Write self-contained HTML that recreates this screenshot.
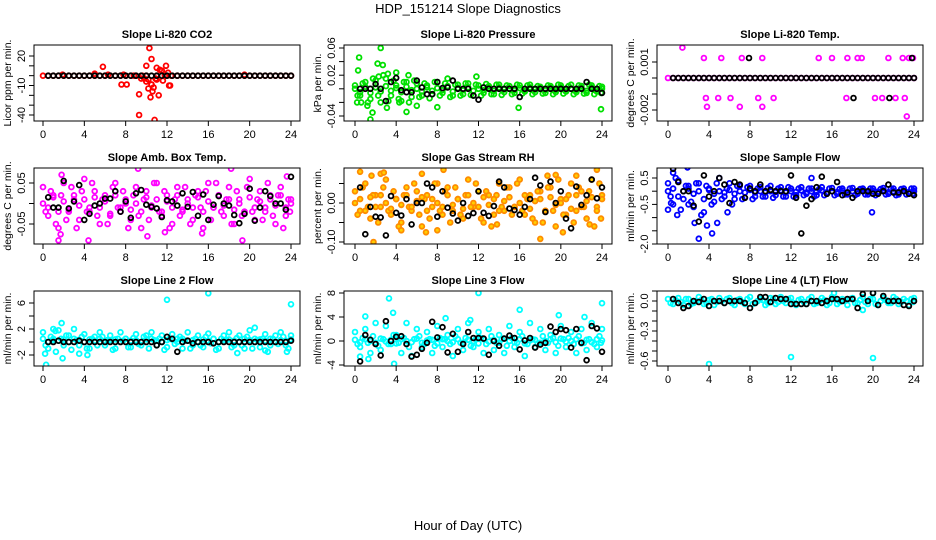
<!DOCTYPE html>
<html><head><meta charset="utf-8"><style>
html,body{margin:0;padding:0;background:#fff;}
svg{display:block;font-family:"Liberation Sans",sans-serif;}
</style></head><body>
<svg id="chart" width="936" height="540" viewBox="0 0 936 540" xmlns="http://www.w3.org/2000/svg">
<rect width="936" height="540" fill="#fff"/>
<text x="468" y="13" font-size="13" text-anchor="middle">HDP_151214  Slope Diagnostics</text>
<text x="468" y="530" font-size="13" text-anchor="middle">Hour of Day (UTC)</text>
<g id="panels"></g>
</svg>
<script>
const hoursC=[0,0.5,1,1.5,2,2.5,3,3.5,4,4.5,5,5.5,6,6.5,7,7.5,8,8.5,9,9.5,10,10.5,11,11.5,12,12.5,13,13.5,14,14.5,15,15.5,16,16.5,17,17.5,18,18.5,19,19.5,20,20.5,21,21.5,22,22.5,23,23.5,24];
const hoursD=[0.25,0.75,1.25,1.75,2.25,2.75,3.25,3.75,4.25,4.75,5.25,5.75,6.25,6.75,7.25,7.75,8.25,8.75,9.25,9.75,10.25,10.75,11.25,11.75,12.25,12.75,13.25,13.75,14.25,14.75,15.25,15.75,16.25,16.75,17.25,17.75,18.25,18.75,19.25,19.75,20.25,20.75,21.25,21.75,22.25,22.75,23.25,23.75,23.9];
const hoursK=[0.5,1,1.5,2,2.5,3,3.5,4,4.5,5,5.5,6,6.5,7,7.5,8,8.5,9,9.5,10,10.5,11,11.5,12,12.5,13,13.5,14,14.5,15,15.5,16,16.5,17,17.5,18,18.5,19,19.5,20,20.5,21,21.5,22,22.5,23,23.5,24];
const xTicks=[0,4,8,12,16,20,24];

// Panel 1 CO2
const co2A=[0,0,0,0,0,0,0,0,0,0,0,0,0,0,0,0,0,0,0,-3,0,-9,0,5,0,0,0,0,0,0,0,0,0,0,0,0,0,0,0,0,0,0,0,0,0,0,0,0,0];
const co2K=[0,0,0,0,0,0,0,0,0,0,0,0,0,0,0,0,0,0,0,0,0,0,0,0,0,0,0,0,0,0,0,0,0,0,0,0,0,0,0,0,0,0,0,0,0,0,0,0];
const co2OutH=[1.9,5.0,5.8,6.3,7.6,8.1,7.8,9.3,9.3,9.6,9.8,10.0,10.2,10.2,10.3,10.4,10.5,10.5,10.6,10.7,10.8,10.9,11.0,11.0,11.2,11.3,11.5,11.6,11.8,11.9,12.1,12.2,12.3,12.4,10.0,8.8,19.5,13.0];
const co2OutV=[1,2,9,1,-9,-9,1,-19,-40,0,-3,-6,-4,-13,28,-22,-9,17,-16,-12,-45,-3,-4,8,-20,6,5,-5,0,10,3,-10,-10,0,10,0,1,0];

// Panel 2 Pressure
const presA=[0.005,-0.01,0.01,-0.015,0.012,-0.02,0.015,-0.01,0.005,-0.018,0.01,-0.012,0.008,-0.01,0.005,-0.008,0.01,-0.006,0.004,-0.01,0.006,-0.008,0.008,-0.01,0.005,-0.006,0.004,-0.008,0.006,-0.005,0.004,-0.006,0.005,-0.004,0.006,-0.005,0.003,-0.006,0.004,-0.005,0.005,-0.004,0.006,-0.005,0.004,-0.006,0.005,-0.004,0.003];
const presB=[-0.01,0.008,-0.02,0.015,-0.01,0.02,-0.018,0.012,-0.015,0.01,-0.02,0.012,-0.012,0.008,-0.014,0.01,-0.01,0.008,-0.012,0.006,-0.01,0.008,-0.009,0.006,-0.01,0.007,-0.008,0.006,-0.009,0.005,-0.008,0.006,-0.007,0.005,-0.008,0.004,-0.007,0.005,-0.008,0.006,-0.007,0.004,-0.008,0.005,-0.007,0.006,-0.008,0.004,-0.006];
const presC=[0,-0.005,0.003,-0.006,0.002,-0.004,0.004,-0.003,0.001,-0.005,0.003,-0.002,0,-0.004,0.002,-0.003,0.001,-0.002,0.003,-0.004,0.001,-0.002,0.002,-0.003,0,-0.002,0.001,-0.003,0.002,-0.001,0,-0.002,0.001,-0.003,0.002,-0.001,0,-0.002,0.001,-0.002,0.002,-0.001,0,-0.002,0.001,-0.003,0.002,-0.001,0];
const presOutH=[0.2,0.3,0.4,0.6,1.5,1.7,2.2,2.5,2.7,2.3,3.1,3.2,4.0,4.3,5.0,5.2,6.0,8.0,15.9,23.9,9.0,11.8,1.2];
const presOutV=[-0.02,0.027,0.046,-0.02,-0.045,-0.035,0.037,0.06,0.035,0.018,-0.028,0.022,0.024,-0.02,-0.034,0.02,-0.025,-0.027,-0.028,-0.03,0.015,0.018,-0.025];
const presK=[0,0,0,0.007,0,-0.018,0.01,0.016,-0.002,-0.005,-0.005,0.012,0.002,-0.008,-0.008,0.01,0.001,0.002,0.012,0,0,0,-0.01,-0.016,0.002,0,0,0,0,0,0,-0.012,0,0,0,0,0,0,0,0,0,0,0,0,0.01,0,0,-0.006];

// Panel 3 Temp
const tempA=[0,0,0,0,0,0,0,0,0,0,0,0,0,0,0,0,0,0,0,0,0,0,0,0,0,0,0,0,0,0,0,0,0,0,0,0,0,0,0,0,0,0,0,0,0,0,0,0,0];
const tempK=[0,0,0,0,0,0,0,0,0,0,0,0,0,0,0,0,0,0,0,0,0,0,0,0,0,0,0,0,0,0,0,0,0,0,0,0,0,0,0,0,0,0,0,0,0,0,0,0];
const tempOutH=[1.4,3.5,5.2,7.2,9.2,14.7,16,17.5,18.5,18.9,21.5,22.9,23.5,23.9,3.7,4.9,6.1,8.8,10.3,17.4,20.2,20.9,22.2,23.1,3.8,7.0,9.2,23.3];
const tempOutV=[0.0019,0.00125,0.00125,0.00125,0.00125,0.00125,0.00125,0.00125,0.00125,0.00125,0.00125,0.00125,0.00125,0.00125,-0.00125,-0.00125,-0.00125,-0.00125,-0.00125,-0.00125,-0.00125,-0.00125,-0.00125,-0.00125,-0.0018,-0.0018,-0.0018,-0.0024];
const tempKOutH=[7.9,23.8,18.1,21.6];
const tempKOutV=[0.00125,0.00125,-0.00125,-0.00125];

// Panel 4 Amb Box Temp
const ambA=[.04,-.03,.02,-.06,.05,-.02,.01,-.04,.06,-.01,.03,-.05,.02,-.03,.05,-.02,.0,-.04,.04,-.06,.03,-.01,.05,-.03,.02,-.05,.04,-.02,.01,-.04,.03,-.06,.05,-.01,.02,-.03,.04,-.05,.01,-.02,.06,-.04,.03,-.01,.02,-.05,.04,-.03,.01];
const ambB=[-.02,.03,-.05,.02,-.04,.04,-.06,.03,-.02,.05,-.03,.01,-.05,.04,-.01,.03,-.06,.02,-.03,.01,-.04,.05,-.02,.03,-.06,.01,-.03,.04,-.05,.02,-.01,.03,-.04,.05,-.02,.01,-.05,.03,-.03,.04,-.02,.01,-.04,.05,-.03,.02,-.06,.01,-.02];
const ambC=[.0,-.01,.015,-.02,.005,-.015,.02,-.005,.01,-.02,.015,-.01,.005,-.025,.02,-.01,.01,-.015,.0,-.02,.015,-.005,.01,-.02,.005,-.01,.02,-.015,.0,-.01,.015,-.02,.005,-.01,.02,-.005,.01,-.015,.0,-.02,.015,-.01,.005,-.02,.01,-.005,.02,-.01,.0];
const ambOutH=[1.5,1.7,4.4,9.2,10.1,11.8,15.4,18.2,19.3,23.6,1.8];
const ambOutV=[-.09,-.075,-.09,.085,-.08,-.07,-.073,.085,-.09,.066,.07];
const ambK=[.015,-.01,-.01,.055,-.012,.005,.045,-.04,-.025,-.005,.0,.012,.012,.03,-.02,.005,-.035,.025,.033,-.003,-.008,-.012,-.033,.008,.005,-.005,.025,-.008,.028,-.03,.022,-.04,-.003,.018,.0,-.005,-.028,-.048,-.025,.036,-.042,-.01,.03,.018,.0,.0,-.015,.065];

// Panel 5 Gas Stream RH
const rhA=[.03,-.02,.05,-.04,.02,-.01,.06,-.03,.01,-.05,.04,-.02,.03,-.06,.02,-.01,.05,-.03,.04,-.02,.01,-.04,.06,-.01,.03,-.05,.02,-.03,.05,-.02,.04,-.01,.06,-.03,.02,-.05,.03,-.02,.04,-.06,.01,-.03,.05,-.02,.03,-.04,.06,-.01,.02];
const rhB=[-.03,.04,-.01,.02,-.05,.04,-.02,.03,-.06,.02,-.01,.05,-.03,.01,-.04,.05,-.02,.03,-.05,.04,-.03,.02,-.01,.05,-.04,.03,-.06,.02,-.01,.04,-.03,.05,-.02,.01,-.04,.03,-.05,.04,-.02,.06,-.03,.02,-.05,.04,-.01,.03,-.06,.05,-.04];
const rhC=[.0,.01,-.02,.015,-.01,.02,.0,-.015,.01,-.005,.02,-.01,.005,.015,-.02,.01,.0,-.01,.02,-.005,.01,-.015,.02,.0,-.01,.015,-.005,.01,-.02,.005,.015,-.01,.0,.02,-.015,.005,.01,-.02,.015,-.005,.0,.01,-.015,.02,-.01,.005,.015,-.02,.01];
const rhOutH=[0.5,1.6,1.8,2.5,2.8,4.5,6.5,6.9,8.6,8.0,13.8,18.0,18.7,19.5,20.2,21.5,23.5,22.8];
const rhOutV=[.08,.07,-.1,.075,.078,-.07,.075,-.075,.085,-.07,-.055,-.092,.07,.072,-.075,.07,.085,-.055];
const rhK=[.04,-.08,-.01,-.035,-.037,-.083,.018,-.025,-.032,.01,-.055,.0,.0,.05,.04,-.035,.03,-.012,-.027,-.045,.0,-.033,-.026,.03,-.025,-.033,-.008,.055,.04,-.014,-.018,-.03,-.01,.01,.065,.045,-.023,.055,.0,.03,-.04,-.065,.042,-.005,.02,.06,.012,.04];

// Panel 6 Sample Flow
const sfA=[.3,-.5,.4,-.3,.2,-.6,.3,-.8,.1,-.4,.5,-.2,.3,-.3,.2,-.25,.2,-.2,.15,-.2,.2,-.15,.15,-.2,.1,-.15,.15,-.1,.1,-.15,.15,-.1,.12,-.1,.1,-.12,.12,-.1,.1,-.12,.1,-.08,.12,-.1,.1,-.12,.1,-.08,.1];
const sfB=[-.2,.5,-.7,.2,-.4,.3,-.9,.2,-.5,.3,-.3,.1,-.5,.2,-.3,.15,-.3,.1,-.2,.12,-.25,.1,-.2,.15,-.2,.1,-.15,.1,-.2,.08,-.15,.1,-.15,.08,-.12,.1,-.15,.08,-.12,.1,-.15,.08,-.12,.1,-.15,.08,-.12,.1,-.1];
const sfC=[0,.1,-.2,0,.1,-.1,0,-.3,.05,-.1,0,-.05,.05,-.1,0,-.05,.05,-.05,0,-.05,0,-.03,.03,-.05,0,-.03,.03,-.05,0,-.03,.03,-.04,0,-.03,.02,-.04,0,-.02,.03,-.04,0,-.02,.03,-.04,0,-.03,.02,-.03,0];
const sfOutH=[0,0.5,0.9,1.9,2.8,3.0,2.6,3.8,4.3,4.8,5.8,19.9,14.0,0.3,2.0];
const sfOutV=[-.7,.7,-.9,.9,1.1,-1.8,-1.2,-1.3,-1.6,-1.2,-.8,-.8,.5,-.45,-.5];
const sfK=[.85,.35,.0,.0,-.55,-1.15,.6,-.2,.0,.5,.25,-.45,.35,.25,-.25,.1,.0,.25,.0,.05,.0,.0,.0,.6,-.25,-1.6,-.55,-.3,.15,.55,-.1,.0,.35,-.15,-.05,-.25,.0,.0,.0,-.1,-.1,.0,.25,-.05,-.05,.0,-.1,-.15];

// Panel 7 Line 2 Flow
const l2A=[1.5,-1,.5,1.8,-.5,1,2,-.5,1.2,-1,.8,1.5,-.5,1,-1,1.5,.5,-.8,1.2,-.5,1,1.5,-.5,1,-.8,1.2,.5,-1,1.5,-.5,1,-.8,1.3,.5,-1,1,1.5,-.5,1,-1,1.8,.5,-.8,1.2,-.5,1,1.5,-.5,1];
const l2B=[-.5,.8,-1.5,.5,1,-1.2,.3,.8,-1,.5,-.5,.8,.3,-1.2,.5,.2,-.8,.6,-.3,.8,-1,.3,.5,-1.2,.5,-.3,.8,.2,-1,.5,-.5,.8,-.2,-1.2,.5,.3,-.8,.6,-.5,.8,-1,.3,.5,-1.5,.5,-.3,.8,-1,.2];
const l2C=[.5,0,.3,.2,.4,0,.5,.3,0,.4,.2,.5,0,.3,.4,0,.5,.2,.3,0,.4,.5,.2,0,.3,.4,0,.5,.2,.3,0,.4,.2,.5,0,.3,.4,.2,0,.5,.3,0,.4,.2,.5,0,.3,.2,.4];
const l2OutH=[0.3,0.2,1.9,1.8,4.3,3.5,12,16,24,23.6,18.8,21.5,20.5,1.0,1.2];
const l2OutV=[-3.5,-1.8,-2.5,2.9,-2,-1.8,6.5,7.5,5.8,-1.5,-1.7,-1.3,2.2,2,1.7];
const l2K=[0,0,.2,0,0,0,.2,0,0,0,0,0,0,0,0,0,0,0,0,0,0,-.5,0,.8,.5,-1.5,0,.2,-.2,0,0,0,-.2,0,0,0,0,0,0,0,0,0,0,0,0,0,0,.2];

// Panel 8 Line 3 Flow
const l3A=[1.5,-1,2,-2,3,-1.5,2.5,-.5,1,-2,3,-2.5,2,-1,1.5,-2,2.5,-1,1,-2.5,2,-1.5,3,-1,1.5,-2,2,-1.5,1,-2,2.5,-1,1.5,-2.5,3,-1,2,-1.5,1,-2,2.5,-1,1.5,-2,2,-1.5,3,-1,2];
const l3B=[-.5,.5,-.3,.8,-.8,.3,-.5,1,-.3,.5,-1,.3,.8,-.5,.3,-.8,.5,.3,-.5,.8,-.3,.5,-.8,.3,.5,-.5,.8,-.3,.3,-.8,.5,-.3,.8,-.5,.3,-.5,.8,-.3,.5,-.8,.3,.5,-.5,.8,-.3,.3,-.5,.8,-.3];
const l3C=[.2,-.2,.3,0,-.3,.4,-.1,.2,-.4,.3,0,-.2,.4,-.3,.1,.2,-.4,.3,0,-.2,.3,-.3,.2,0,-.4,.3,-.1,.2,-.3,.4,0,-.2,.3,-.4,.1,.2,-.3,0,.3,-.2,.4,-.1,0,.3,-.4,.2,-.2,.3,.1];
const l3OutH=[3.3,3.7,12,16,24,19.8,3.8,1.3,0.5,22.3,1,8.8,11.2];
const l3OutV=[7.1,4.7,8,5.2,6.3,4.3,-3.8,-3,-2.6,4,4.1,3.8,3.5];
const l3K=[-3.4,1,.2,-.5,-2.4,3.3,0,.7,.8,-.5,-2.6,-2.3,-1.3,-.3,3.2,.6,2.3,-1.9,1.2,-1.8,-.5,1.5,.5,.5,.4,-2.3,0,-.8,.4,.9,.5,-1.4,.1,.5,-1.1,-.6,-.3,2.4,1.5,2,1.8,-1.1,2,-.3,-3.2,2.5,2.1,-1.8];

// Panel 9 Line 4 (LT) Flow
const l4A=[.02,-.03,.03,-.04,.02,-.02,.04,-.03,.01,-.04,.03,-.02,.03,-.04,.02,-.03,.04,-.02,.02,-.04,.03,-.03,.04,-.02,.03,-.04,.02,-.03,.04,-.02,.03,-.04,.04,-.03,.02,-.04,.03,-.02,.04,-.03,.02,-.04,.03,-.02,.04,-.03,.02,-.04,.03];
const l4B=[-.02,.01,-.01,.02,-.03,.0,.01,-.02,.02,-.01,.0,.02,-.02,.01,-.01,.02,-.03,.0,.01,-.02,.02,-.01,.0,.02,-.02,.01,-.01,.02,-.03,.0,.01,-.02,.02,-.01,.0,.02,-.02,.01,-.01,.02,-.03,.0,.01,-.02,.02,-.01,.0,.02,-.01];
const l4OutH=[4,12,20,16.2,20,19];
const l4OutV=[-.63,-.56,-.57,.08,.08,-.09];
const l4K=[.02,-.02,-.07,-.05,.0,-.01,.02,-.05,.0,.0,-.02,.0,.0,.0,-.02,-.07,-.02,.04,.04,-.01,.03,.02,.02,-.03,-.03,-.03,-.03,.0,.0,-.02,.0,.02,.02,.0,.02,.02,-.07,.07,.0,.08,-.04,.05,.0,.0,.0,-.04,-.05,.0];

// Tick values & labels
const yTicks1=[20,10,0,-10,-20,-30,-40], yLabels1=["20","-10","-40"], yLabelVals1=[20,-10,-40];
const yTicks2=[0.06,0.04,0.02,0,-0.02,-0.04], yLabels2=["0.06","0.02","-0.04"], yLabelVals2=[0.06,0.02,-0.04];
const yTicks3=[0.001,0,-0.001,-0.002], yLabels3=["0.001","-0.002"], yLabelVals3=[0.001,-0.002];
const yTicks4=[0.05,0,-0.05], yLabels4=["0.05","-0.05"], yLabelVals4=[0.05,-0.05];
const yTicks5=[0.05,0,-0.05,-0.1], yLabels5=["0.00","-0.10"], yLabelVals5=[0,-0.1];
const yTicks6=[0.5,0,-0.5,-1,-1.5,-2], yLabels6=["0.5","-0.5","-2.0"], yLabelVals6=[0.5,-0.5,-2];
const yTicks7=[6,4,2,0,-2], yLabels7=["6","2","-2"], yLabelVals7=[6,2,-2];
const yTicks8=[8,4,0,-4], yLabels8=["8","4","0","-4"], yLabelVals8=[8,4,0,-4];
const yTicks9=[0.1,0,-0.1,-0.2,-0.3,-0.4,-0.5,-0.6], yLabels9=["0.0","-0.3","-0.6"], yLabelVals9=[0,-0.3,-0.6];

const NS="http://www.w3.org/2000/svg";
const root=document.getElementById('panels');
const colL=[34,344,657], colR=[300,612,923], colX0=[43,355,668], colX24=[291,602,914];
const rowT=[45,168,291], rowB=[121,244,366];

function mk(tag,attrs,parent){const e=document.createElementNS(NS,tag);for(const k in attrs)e.setAttribute(k,attrs[k]);parent.appendChild(e);return e;}

const panels=[
 {c:0,r:0,title:"Slope Li-820 CO2",ylab:"Licor ppm per min.",col:"#ff0000",ref:[20,56,-40,115],yt:yTicks1,yl:yLabels1,ylv:yLabelVals1,series:[co2A],outH:co2OutH,outV:co2OutV,k:co2K},
 {c:1,r:0,title:"Slope Li-820 Pressure",ylab:"kPa per min.",col:"#00e000",ref:[0.06,48,-0.04,116],yt:yTicks2,yl:yLabels2,ylv:yLabelVals2,series:[presA,presB,presC],outH:presOutH,outV:presOutV,k:presK},
 {c:2,r:0,title:"Slope Li-820 Temp.",ylab:"degrees C per min.",col:"#ff00ff",ref:[0.001,62,-0.002,110],yt:yTicks3,yl:yLabels3,ylv:yLabelVals3,series:[tempA],outH:tempOutH,outV:tempOutV,k:tempK,kOutH:tempKOutH,kOutV:tempKOutV},
 {c:0,r:1,title:"Slope Amb. Box Temp.",ylab:"degrees C per min.",col:"#ff00ff",ref:[0.05,183,-0.05,224],yt:yTicks4,yl:yLabels4,ylv:yLabelVals4,series:[ambA,ambB,ambC],outH:ambOutH,outV:ambOutV,k:ambK},
 {c:1,r:1,title:"Slope Gas Stream RH",ylab:"percent per min.",col:"#ff8c00",fill:"#ffd000",ref:[0,203,-0.1,242],yt:yTicks5,yl:yLabels5,ylv:yLabelVals5,series:[rhA,rhB,rhC],outH:rhOutH,outV:rhOutV,k:rhK},
 {c:2,r:1,title:"Slope Sample Flow",ylab:"ml/min per min.",col:"#0000ff",ref:[0.5,178,-2,244],yt:yTicks6,yl:yLabels6,ylv:yLabelVals6,series:[sfA,sfB,sfC],outH:sfOutH,outV:sfOutV,k:sfK},
 {c:0,r:2,title:"Slope Line 2 Flow",ylab:"ml/min per min.",col:"#00ffff",ref:[6,303,-2,355],yt:yTicks7,yl:yLabels7,ylv:yLabelVals7,series:[l2A,l2B,l2C],outH:l2OutH,outV:l2OutV,k:l2K},
 {c:1,r:2,title:"Slope Line 3 Flow",ylab:"ml/min per min.",col:"#00ffff",ref:[8,293,-4,365],yt:yTicks8,yl:yLabels8,ylv:yLabelVals8,series:[l3A,l3B,l3C],outH:l3OutH,outV:l3OutV,k:l3K},
 {c:2,r:2,title:"Slope Line 4 (LT) Flow",ylab:"ml/min per min.",col:"#00ffff",ref:[0,301,-0.6,361],yt:yTicks9,yl:yLabels9,ylv:yLabelVals9,series:[l4A,l4B],outH:l4OutH,outV:l4OutV,k:l4K}
];

panels.forEach((p,pi)=>{
 const L=colL[p.c],R=colR[p.c],T=rowT[p.r],B=rowB[p.r];
 const xs=h=>colX0[p.c]+(colX24[p.c]-colX0[p.c])*h/24;
 const ys=v=>p.ref[1]+(v-p.ref[0])*(p.ref[3]-p.ref[1])/(p.ref[2]-p.ref[0]);
 const g=mk('g',{},root);
 
 
 const t=mk('text',{x:(L+R)/2,y:T-7,'font-size':11,'font-weight':'bold','text-anchor':'middle'},g);
 t.textContent=p.title;
 
 
 const yl=mk('text',{transform:`translate(${L-23},${(T+B)/2}) rotate(-90)`,'font-size':10.5,'text-anchor':'middle'},g);
 yl.textContent=p.ylab;
 
 
 const clipId='clip'+pi;
 const cp=mk('clipPath',{id:clipId},g);
 mk('rect',{x:L,y:T,width:R-L,height:B-T},cp);
 const pts=mk('g',{'clip-path':`url(#${clipId})`,'stroke-width':1.8},g);
 
 
 const dot=(h,v,col,fill)=>{const c=mk('circle',{cx:xs(h).toFixed(1),cy:ys(v).toFixed(1),r:2.4,stroke:col,fill:fill||'none'},pts);
  
  };
 p.series.forEach((s,si)=>s.forEach((v,i)=>dot((si===1?hoursD:hoursC)[i],v,p.col,p.fill)));
 p.outH.forEach((h,i)=>dot(h,p.outV[i],p.col,p.fill));
 p.k.forEach((v,i)=>dot(hoursK[i],v,'#000'));
 if(p.kOutH)p.kOutH.forEach((h,i)=>dot(h,p.kOutV[i],'#000'));
 const box=mk('rect',{x:L,y:T,width:R-L,height:B-T,fill:'none',stroke:'#000','stroke-width':1},g);
 
 
 xTicks.forEach(h=>{
  mk('line',{x1:xs(h),x2:xs(h),y1:B,y2:B+5,stroke:'#000'},g);
  const tl=mk('text',{x:xs(h),y:B+17,'font-size':11,'text-anchor':'middle'},g);
  tl.textContent=h;
  
  
 });
 p.yt.forEach(v=>{const y=ys(v);if(y<T-1||y>B+1)return;mk('line',{x1:L-5,x2:L,y1:y,y2:y,stroke:'#000'},g);});
 p.ylv.forEach((v,i)=>{
  const y=ys(v);
  const tl=mk('text',{transform:`translate(${L-9},${y}) rotate(-90)`,'font-size':11,'text-anchor':'middle'},g);
  tl.textContent=p.yl[i];
  
  
 });
});
</script>
</body></html>
